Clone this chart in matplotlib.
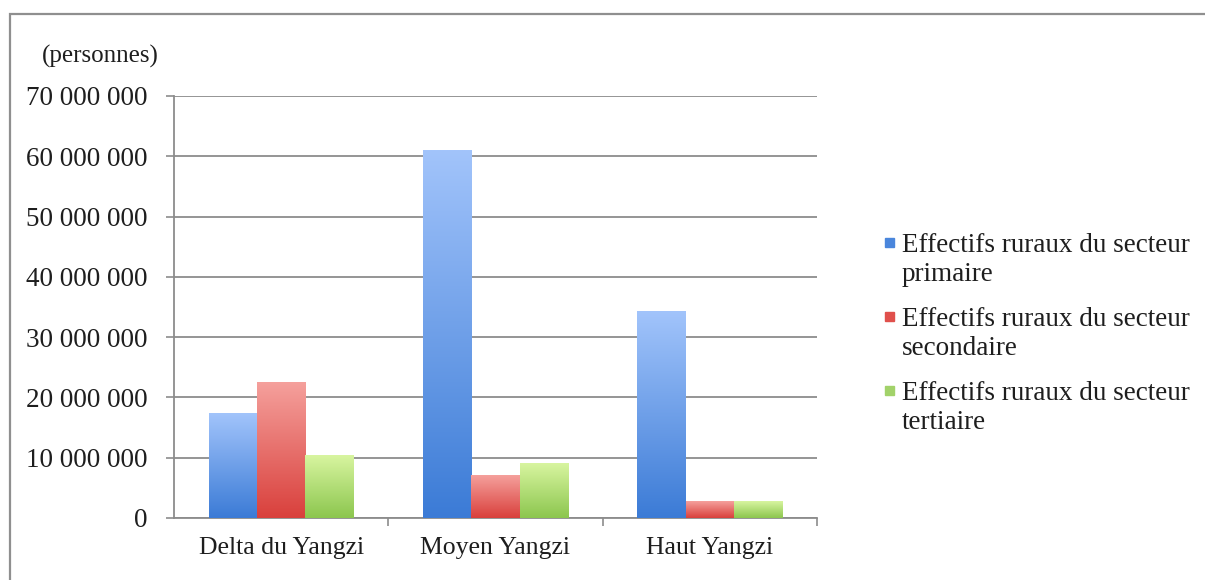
import numpy as np
import matplotlib.pyplot as plt
from matplotlib.patches import Rectangle
from matplotlib.colors import LinearSegmentedColormap
from matplotlib.ticker import FuncFormatter

regions = ["Delta du Yangzi", "Moyen Yangzi", "Haut Yangzi"]
primaire = [17_300_000, 60_900_000, 34_300_000]
secondaire = [22_500_000, 7_100_000, 2_700_000]
tertiaire = [10_300_000, 9_100_000, 2_700_000]
labels = ["Effectifs ruraux du secteur\nprimaire",
          "Effectifs ruraux du secteur\nsecondaire",
          "Effectifs ruraux du secteur\ntertiaire"]

# (haut clair, bas foncé) pour chaque série
gradients = [("#a2c4fb", "#3b7bd6"),
             ("#f5a09c", "#d9403c"),
             ("#d8f5a0", "#8cc64e")]
legend_colors = ["#4a86dc", "#e0504c", "#a2d26a"]

plt.rcParams['font.family'] = ['Liberation Serif', 'DejaVu Serif']
txt = "#1e1e1e"

fig = plt.figure(figsize=(12.05, 5.8), dpi=100)
ax = fig.add_axes([0.1444, 0.1069, 0.5336, 0.7276])

series = [primaire, secondaire, tertiaire]
width = 0.225
x = np.arange(len(regions))
grad = np.linspace(1, 0, 256).reshape(-1, 1)
for i, (vals, (light, dark)) in enumerate(zip(series, gradients)):
    cmap = LinearSegmentedColormap.from_list(f"g{i}", [dark, light])
    offs = x + (i - 1) * width
    for xc, v in zip(offs, vals):
        ax.imshow(grad, cmap=cmap, aspect='auto', zorder=3,
                  extent=[xc - width / 2, xc + width / 2, 0, v])

ax.set_xlim(-0.5, 2.5)
ax.set_ylim(0, 70_000_000)
ax.set_yticks(np.arange(0, 70_000_001, 10_000_000))
ax.yaxis.set_major_formatter(FuncFormatter(lambda v, p: f"{int(v):,}".replace(",", " ")))
ax.yaxis.grid(True, color="#8c8c8c", linewidth=1.3, zorder=0)
ax.set_axisbelow(True)

ax.set_xticks(x)
ax.set_xticklabels(regions)
ax.set_xticks([0.5, 1.5, 2.5], minor=True)
ax.tick_params(axis='x', which='major', length=0, pad=14, labelsize=18.5, labelcolor=txt)
ax.tick_params(axis='x', which='minor', length=6, color="#8c8c8c", width=1.2, direction='out')
ax.tick_params(axis='y', length=6, color="#8c8c8c", width=1.2, pad=13, labelsize=19.5,
               labelcolor=txt)

for side in ("top", "right"):
    ax.spines[side].set_visible(False)
for side in ("left", "bottom"):
    ax.spines[side].set_color("#8c8c8c")
    ax.spines[side].set_linewidth(1.3)

fig.text(42 / 1205, 1 - 56 / 580, "(personnes)", fontsize=18, color=txt,
         va='center', ha='left')

# légende
for k, (lab, col) in enumerate(zip(labels, legend_colors)):
    yline = 1 - (245 + k * 74) / 580
    fig.patches.append(Rectangle((885 / 1205, yline - 2 / 580), 9 / 1205, 9 / 580,
                                 transform=fig.transFigure, color=col))
    fig.text(902 / 1205, yline - 15 / 580, lab, fontsize=19.5, color=txt,
             va='center', ha='left', linespacing=1.22)

# cadre du graphique
fig.patches.append(Rectangle((10 / 1205, -0.05), 1.1, 1 - 14 / 580 + 0.05,
                             transform=fig.transFigure, fill=False,
                             edgecolor="#8f8f8f", linewidth=1.6))

fig.savefig("out.png", dpi=100)
